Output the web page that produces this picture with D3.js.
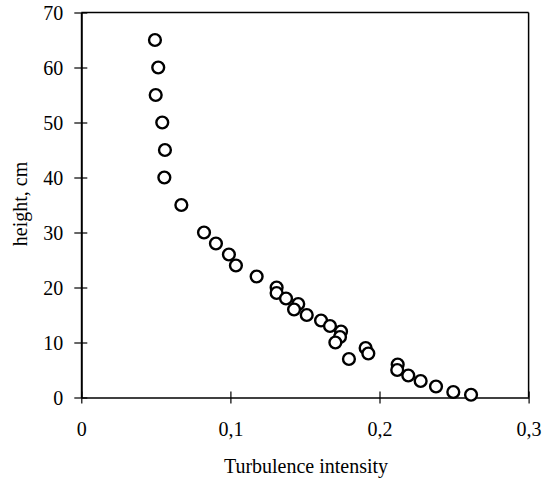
<!DOCTYPE html>
<html><head><meta charset="utf-8">
<script src="https://cdn.jsdelivr.net/npm/d3@7"></script>
<style>
html,body{margin:0;padding:0;background:#fff;}
svg{display:block;}
svg text{font-family:"Liberation Serif","Times New Roman",serif !important;}
</style></head>
<body>
<script>
const turbulence = [0.0494,0.0516,0.0499,0.0543,0.0561,0.0557,0.0671,0.0823,0.0903,0.0990,0.1037,0.1176,0.1310,0.1310,0.1373,0.1455,0.1427,0.1512,0.1608,0.1668,0.1742,0.1735,0.1704,0.1795,0.1907,0.1925,0.2122,0.2119,0.2193,0.2276,0.2379,0.2495,0.2614];
const heights = [65,60,55,50,45,40,35,30,28,26,24,22,20,19,18,17,16,15,14,13,12,11,10,7,9,8,6,5,4,3,2,1,0.5];
const xTicks = [0,0.1,0.2,0.3];
const xTickLabels = ["0","0,1","0,2","0,3"];
const yTicks = [0,10,20,30,40,50,60,70];
const xTitle = "Turbulence intensity";
const yTitle = "height, cm";

const FONT = "'Liberation Serif','Times New Roman',serif";
const W = 551, H = 481;
const m = {left:81.3, right:551-528.6, top:12.5, bottom:481-397.5};
const svg = d3.select("body").append("svg").attr("width",W).attr("height",H)
  .attr("font-family",FONT);
const x = d3.scaleLinear().domain([0,0.3]).range([m.left, W-m.right]);
const y = d3.scaleLinear().domain([0,70]).range([H-m.bottom, m.top]);

// frame: top and right lines
svg.append("line").attr("x1",x(0)).attr("x2",x(0.3)).attr("y1",y(70)).attr("y2",y(70)).attr("stroke","#000").attr("stroke-width",1.5);
svg.append("line").attr("x1",x(0.3)).attr("x2",x(0.3)).attr("y1",y(70)).attr("y2",y(0)).attr("stroke","#000").attr("stroke-width",1.5);

// x axis
const xAxis = svg.append("g").attr("transform",`translate(0,${y(0)})`)
  .call(d3.axisBottom(x).tickValues(xTicks).tickSizeInner(6).tickSizeOuter(0).tickFormat((d,i)=>xTickLabels[i]))
  .attr("font-family",FONT).attr("font-size",20);
xAxis.select(".domain").attr("stroke","#000").attr("stroke-width",1.5);
xAxis.selectAll(".tick line").attr("y1",-6).attr("y2",6).attr("stroke","#000").attr("stroke-width",1.2);
xAxis.selectAll(".tick text").attr("y",38).attr("dy",null).attr("fill","#000").style("font-family",FONT);

// y axis
const yAxis = svg.append("g").attr("transform",`translate(${x(0)},0)`)
  .call(d3.axisLeft(y).tickValues(yTicks).tickSizeInner(6).tickSizeOuter(0).tickFormat(d3.format("d")))
  .attr("font-family",FONT).attr("font-size",20);
yAxis.select(".domain").attr("stroke","#000").attr("stroke-width",2);
yAxis.selectAll(".tick line").attr("x1",-7).attr("x2",6).attr("stroke","#000").attr("stroke-width",1.2);
yAxis.selectAll(".tick text").attr("x",-18).attr("dy","0.33em").attr("fill","#000").style("font-family",FONT);

// points
svg.append("g").selectAll("circle").data(turbulence).join("circle")
  .attr("cx",(d)=>x(d)).attr("cy",(d,i)=>y(heights[i])).attr("r",5.9)
  .attr("fill","#fff").attr("stroke","#000").attr("stroke-width",2.4);

// titles
svg.append("text").attr("x",306).attr("y",473).attr("text-anchor","middle").attr("font-size",20).attr("fill","#000").text(xTitle);
svg.append("text").attr("transform",`translate(27,204) rotate(-90)`).attr("text-anchor","middle").attr("font-size",20).attr("fill","#000").text(yTitle);
</script>
</body></html>
